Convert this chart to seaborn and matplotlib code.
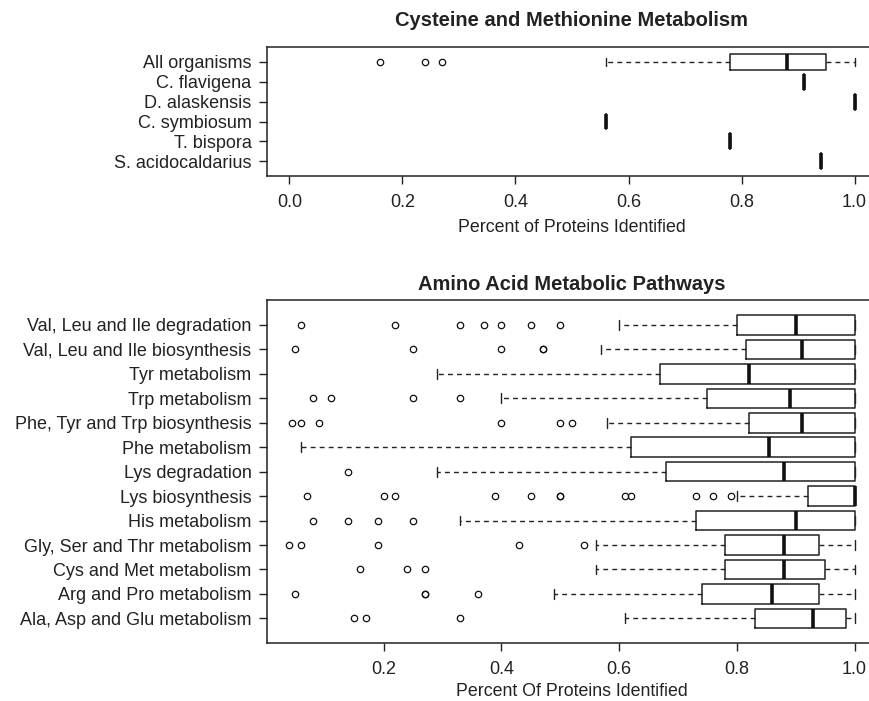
import matplotlib
matplotlib.use("Agg")
import matplotlib.pyplot as plt
import seaborn as sns

sns.set_style("ticks")
plt.rcParams['font.family'] = ['Liberation Sans', 'DejaVu Sans']

# ---- top panel: Cysteine and Methionine Metabolism ----
org_names = ["All organisms", "C. flavigena", "D. alaskensis",
             "C. symbiosum", "T. bispora", "S. acidocaldarius"]
org_lo = [0.56, 0.91, 1.0, 0.56, 0.78, 0.94]
org_q1 = [0.78, 0.91, 1.0, 0.56, 0.78, 0.94]
org_med = [0.88, 0.91, 1.0, 0.56, 0.78, 0.94]
org_q3 = [0.95, 0.91, 1.0, 0.56, 0.78, 0.94]
org_hi = [1.0, 0.91, 1.0, 0.56, 0.78, 0.94]
org_out = [[0.16, 0.24, 0.27], [], [], [], [], []]

# ---- bottom panel: Amino Acid Metabolic Pathways ----
path_names = ["Val, Leu and Ile degradation", "Val, Leu and Ile biosynthesis",
              "Tyr metabolism", "Trp metabolism", "Phe, Tyr and Trp biosynthesis",
              "Phe metabolism", "Lys degradation", "Lys biosynthesis",
              "His metabolism", "Gly, Ser and Thr metabolism",
              "Cys and Met metabolism", "Arg and Pro metabolism",
              "Ala, Asp and Glu metabolism"]
path_lo = [0.60, 0.57, 0.29, 0.40, 0.58, 0.06, 0.29, 0.80, 0.33, 0.56, 0.56, 0.49, 0.61]
path_q1 = [0.80, 0.815, 0.67, 0.75, 0.82, 0.62, 0.68, 0.92, 0.73, 0.78, 0.78, 0.74, 0.83]
path_med = [0.90, 0.91, 0.82, 0.89, 0.91, 0.855, 0.88, 1.0, 0.90, 0.88, 0.88, 0.86, 0.93]
path_q3 = [1.0, 1.0, 1.0, 1.0, 1.0, 1.0, 1.0, 1.0, 1.0, 0.94, 0.95, 0.94, 0.985]
path_hi = [1.0, 1.0, 1.0, 1.0, 1.0, 1.0, 1.0, 1.0, 1.0, 1.0, 1.0, 1.0, 1.0]
path_out = [
    [0.06, 0.22, 0.33, 0.37, 0.40, 0.45, 0.50],
    [0.05, 0.25, 0.40, 0.47, 0.47],
    [],
    [0.08, 0.11, 0.25, 0.33],
    [0.045, 0.06, 0.09, 0.40, 0.50, 0.52],
    [],
    [0.14],
    [0.07, 0.20, 0.22, 0.39, 0.45, 0.50, 0.50, 0.61, 0.62, 0.73, 0.76, 0.79],
    [0.08, 0.14, 0.19, 0.25],
    [0.04, 0.06, 0.19, 0.43, 0.54],
    [0.16, 0.24, 0.27],
    [0.05, 0.27, 0.27, 0.36],
    [0.15, 0.17, 0.33],
]


def make_stats(names, lo, q1, med, q3, hi, out):
    return [dict(label=n, whislo=a, q1=b, med=c, q3=d, whishi=e, fliers=f)
            for n, a, b, c, d, e, f in zip(names, lo, q1, med, q3, hi, out)]


def draw(ax, stats, title, xlabel, xticks, xlim, title_pad, label_pad):
    n = len(stats)
    pos = [n - i for i in range(n)]
    ax.bxp(stats, positions=pos, orientation='horizontal', widths=0.8,
           capwidths=0.4, showfliers=True,
           boxprops=dict(color='#222222', linewidth=1.1),
           whiskerprops=dict(color='#222222', linewidth=1.0, linestyle=(0, (3.5, 3))),
           capprops=dict(color='#222222', linewidth=1.0),
           medianprops=dict(color='#111111', linewidth=2.6, solid_capstyle='butt'),
           flierprops=dict(marker='o', markerfacecolor='none', markeredgecolor='#111111',
                           markersize=4.6, markeredgewidth=0.9, linestyle='none'))
    ax.set_yticks(pos, [s['label'] for s in stats])
    ax.set_ylim(0.5 - 0.04 * n, n + 0.5 + 0.04 * n)
    ax.set_xlim(*xlim)
    ax.set_xticks(xticks, [f"{t:.1f}" for t in xticks])
    ax.tick_params(axis='both', direction='out', length=6, width=1.0,
                   color='#222222', labelsize=13.0, labelcolor='#222222', pad=5)
    ax.tick_params(axis='x', pad=7)
    for sp in ax.spines.values():
        sp.set_visible(True)
        sp.set_linewidth(1.1)
        sp.set_color('#222222')
    ax.set_title(title, fontsize=14.5, fontweight='bold', color='#222222', pad=title_pad)
    ax.set_xlabel(xlabel, fontsize=12.8, color='#222222', labelpad=label_pad)


fig = plt.figure(figsize=(8.7, 7.01), dpi=100)
ax1 = fig.add_axes([0.3066, 0.749, 0.7017, 0.1836])
ax2 = fig.add_axes([0.3066, 0.0823, 0.7017, 0.4897])

draw(ax1, make_stats(org_names, org_lo, org_q1, org_med, org_q3, org_hi, org_out),
     "Cysteine and Methionine Metabolism", "Percent of Proteins Identified",
     [0.0, 0.2, 0.4, 0.6, 0.8, 1.0], (-0.04, 1.04), 15, 5.5)
draw(ax2, make_stats(path_names, path_lo, path_q1, path_med, path_q3, path_hi, path_out),
     "Amino Acid Metabolic Pathways", "Percent Of Proteins Identified",
     [0.2, 0.4, 0.6, 0.8, 1.0], (0.0016, 1.0384), 7.5, 3.5)

fig.savefig("out.png", dpi=100, facecolor='white')
